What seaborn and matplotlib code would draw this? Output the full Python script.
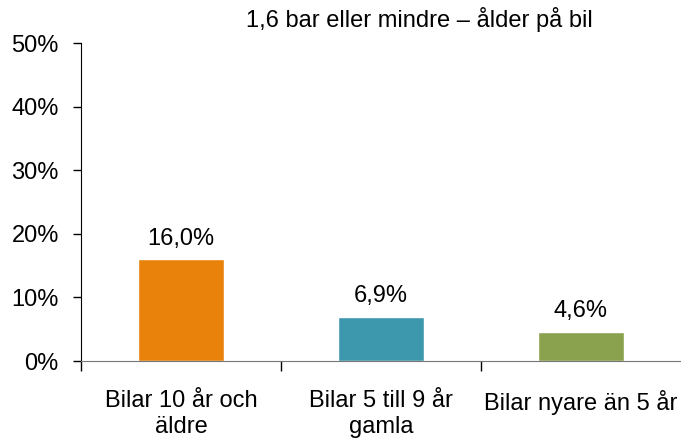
import matplotlib
matplotlib.use('Agg')
import matplotlib.pyplot as plt
import seaborn as sns
import pandas as pd
from matplotlib.ticker import FuncFormatter

# Data
categories = ['Bilar 10 år och\näldre', 'Bilar 5 till 9 år\ngamla', 'Bilar nyare än 5 år']
values = [16.0, 6.9, 4.6]
labels = ['16,0%', '6,9%', '4,6%']
colors = ['#E8820A', '#3D97AD', '#8AA24E']
title = '1,6 bar eller mindre – ålder på bil'

sns.set_style('white')
plt.rcParams['font.family'] = ['Liberation Sans', 'DejaVu Sans']
plt.rcParams['text.color'] = 'black'
plt.rcParams['xtick.color'] = 'black'
plt.rcParams['ytick.color'] = 'black'

df = pd.DataFrame({'kategori': categories, 'andel': values})

fig = plt.figure(figsize=(6.81, 4.43), dpi=100)
ax = fig.add_axes([81 / 681, 1 - 361 / 443, 600 / 681, 318 / 443])
sns.barplot(data=df, x='kategori', y='andel', hue='kategori', palette=colors,
            width=0.43, legend=False, ax=ax, saturation=1)

ax.set_ylim(0, 50)
ax.set_xlim(-0.5, 2.5)
ax.set_yticks([0, 10, 20, 30, 40, 50])
ax.yaxis.set_major_formatter(FuncFormatter(lambda v, p: f'{int(v)}%'))
ax.tick_params(axis='y', length=6, width=1, color='black', labelsize=17, pad=10, left=True)
ax.set_xticks([0, 1, 2])
ax.set_xticklabels(categories)
ax.set_xticks([-0.5, 0.5, 1.5], minor=True)
ax.tick_params(axis='x', which='major', length=0, labelsize=17, pad=21)
ax.tick_params(axis='x', which='minor', length=7, width=1, color='black', bottom=True)
for lbl in ax.get_xticklabels():
    lbl.set_linespacing(1.25)

ax.set_xlabel('')
ax.set_ylabel('')
for s in ['top', 'right']:
    ax.spines[s].set_visible(False)
ax.spines['left'].set_color('black')
ax.spines['bottom'].set_color('#777777')

# Value labels
for p, txt in zip(ax.patches, labels):
    ax.annotate(txt, (p.get_x() + p.get_width() / 2, p.get_height()),
                xytext=(0, 7), textcoords='offset points',
                ha='center', va='bottom', fontsize=17)

fig.text(419 / 681, 1 - 20 / 443, title, ha='center', va='center', fontsize=17)

fig.savefig('out.png', dpi=100)
